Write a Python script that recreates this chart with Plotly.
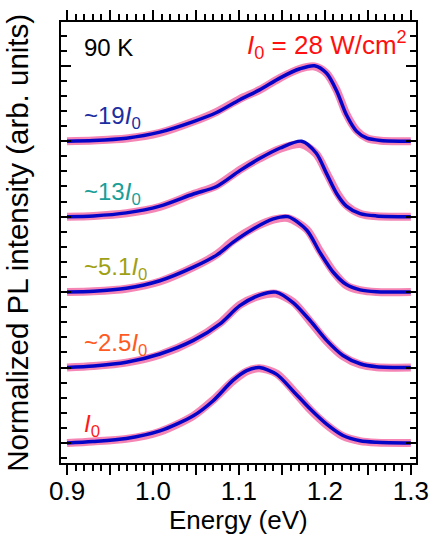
import plotly.graph_objects as go

# ---------------- data ----------------
labels = ["<i>I</i><sub>0</sub>", "~2.5<i>I</i><sub>0</sub>", "~5.1<i>I</i><sub>0</sub>",
          "~13<i>I</i><sub>0</sub>", "~19<i>I</i><sub>0</sub>"]
label_colors = ["#ff1a1a", "#ff5a1f", "#a0a015", "#1a9e98", "#1c2ea0"]
label_heights = [0.23, 0.31, 0.31, 0.31, 0.31]
offsets = [0, 1, 2, 3, 4]

e_1 = [0.90, 0.93, 0.969, 1.008, 1.047, 1.070, 1.093, 1.109, 1.124, 1.144, 1.163, 1.183, 1.202, 1.221, 1.241, 1.26, 1.30]
fit_1 = [0.0, 0.02, 0.06, 0.16, 0.36, 0.56, 0.83, 0.96, 1.0, 0.91, 0.69, 0.45, 0.25, 0.10, 0.03, 0.01, 0.0]
dat_1 = [0.0, 0.02, 0.055, 0.15, 0.36, 0.57, 0.82, 0.95, 0.99, 0.92, 0.70, 0.44, 0.24, 0.09, 0.025, 0.005, 0.0]

e_2 = [0.90, 0.931, 0.969, 1.008, 1.047, 1.078, 1.101, 1.124, 1.143, 1.163, 1.183, 1.202, 1.221, 1.241, 1.26, 1.30]
fit_2 = [0.0, 0.02, 0.07, 0.18, 0.36, 0.58, 0.82, 0.96, 1.0, 0.86, 0.62, 0.36, 0.16, 0.05, 0.01, 0.0]
dat_2 = [0.0, 0.02, 0.065, 0.17, 0.36, 0.59, 0.83, 0.95, 0.98, 0.87, 0.61, 0.35, 0.15, 0.04, 0.005, 0.0]

e_3 = [0.90, 0.931, 0.969, 1.008, 1.047, 1.074, 1.093, 1.117, 1.140, 1.157, 1.179, 1.194, 1.210, 1.225, 1.241, 1.26, 1.30]
fit_3 = [0.0, 0.01, 0.05, 0.15, 0.33, 0.49, 0.66, 0.84, 0.97, 1.0, 0.82, 0.53, 0.26, 0.10, 0.03, 0.005, 0.0]
dat_3 = [0.0, 0.01, 0.045, 0.14, 0.33, 0.50, 0.68, 0.85, 0.96, 0.98, 0.83, 0.55, 0.27, 0.09, 0.025, 0.0, 0.0]

e_4 = [0.90, 0.931, 0.969, 1.008, 1.047, 1.074, 1.101, 1.124, 1.148, 1.173, 1.190, 1.202, 1.214, 1.225, 1.241, 1.26, 1.30]
fit_4 = [0.0, 0.01, 0.05, 0.14, 0.30, 0.40, 0.61, 0.77, 0.91, 1.0, 0.84, 0.57, 0.30, 0.14, 0.04, 0.01, 0.0]
dat_4 = [0.0, 0.01, 0.045, 0.13, 0.30, 0.41, 0.62, 0.77, 0.90, 0.96, 0.83, 0.58, 0.32, 0.15, 0.04, 0.005, 0.0]

e_5 = [0.90, 0.931, 0.969, 1.008, 1.047, 1.074, 1.101, 1.124, 1.148, 1.171, 1.188, 1.202, 1.214, 1.225, 1.237, 1.249, 1.265, 1.30]
fit_5 = [0.0, 0.01, 0.04, 0.12, 0.26, 0.38, 0.55, 0.68, 0.84, 0.96, 1.0, 0.90, 0.66, 0.35, 0.13, 0.04, 0.01, 0.0]
dat_5 = [0.0, 0.01, 0.035, 0.11, 0.26, 0.39, 0.56, 0.68, 0.84, 0.96, 0.99, 0.90, 0.67, 0.36, 0.14, 0.04, 0.005, 0.0]

energies = [e_1, e_2, e_3, e_4, e_5]
fits = [fit_1, fit_2, fit_3, fit_4, fit_5]
datas = [dat_1, dat_2, dat_3, dat_4, dat_5]

x_tickvals = [0.90, 0.95, 1.00, 1.05, 1.10, 1.15, 1.20, 1.25, 1.30]
x_ticktext = ["0.9", "", "1.0", "", "1.1", "", "1.2", "", "1.3"]
y_tickvals = [0, 1, 2, 3, 4, 5]

FONT = "Liberation Sans, Arial, sans-serif"
PINK = "#f585b4"
BLUE = "#0505c8"

fig = go.Figure()
for e, d, f, o in zip(energies, datas, fits, offsets):
    fig.add_trace(go.Scatter(x=e, y=[v + o for v in d], mode="lines",
                             line=dict(color=PINK, width=8, shape="spline", smoothing=0.8),
                             showlegend=False, hoverinfo="skip"))
    fig.add_trace(go.Scatter(x=e, y=[v + o for v in f], mode="lines",
                             line=dict(color=BLUE, width=3.5, shape="spline", smoothing=0.8),
                             showlegend=False))

for lab, col, o, h in zip(labels, label_colors, offsets, label_heights):
    fig.add_annotation(x=0.917, y=o + h, xref="x", yref="y", text=lab, showarrow=False,
                       xanchor="left", yanchor="middle",
                       font=dict(family=FONT, size=24, color=col))

fig.add_annotation(x=0.917, y=5.24, xref="x", yref="y", text="90 K", showarrow=False,
                   xanchor="left", yanchor="middle", font=dict(family=FONT, size=24, color="black"))
fig.add_annotation(x=1.298, y=5.27, xref="x", yref="y",
                   text="<i>I</i><sub>0</sub> = 28 W/cm<sup>2</sup>", showarrow=False,
                   xanchor="right", yanchor="middle", font=dict(family=FONT, size=26, color="#ff1010"))

fig.add_annotation(x=0.5, y=-0.13, xref="paper", yref="paper", text="Energy (eV)",
                   showarrow=False, xanchor="center", yanchor="middle",
                   font=dict(family=FONT, size=26, color="black"))
fig.add_annotation(x=-0.123, y=0.5, xref="paper", yref="paper",
                   text="Normalized PL intensity (arb. units)", textangle=-90,
                   showarrow=False, xanchor="center", yanchor="middle",
                   font=dict(family=FONT, size=29.5, color="black"))

fig.update_layout(
    template="none",
    width=432, height=534, autosize=False,
    margin=dict(l=61, r=16, t=22, b=71, pad=0),
    plot_bgcolor="white", paper_bgcolor="white",
    font=dict(family=FONT, size=26, color="black"),
    xaxis=dict(range=[0.893, 1.306], tickmode="array", tickvals=x_tickvals, ticktext=x_ticktext,
               automargin=False,
               ticks="outside", ticklen=10, tickwidth=2, tickcolor="black",
               ticklabelstandoff=-6,
               minor=dict(dtick=0.01, tick0=0.9, ticks="outside", ticklen=6, tickwidth=1.5,
                          tickcolor="black", showgrid=False),
               showline=True, linecolor="black", linewidth=2, mirror="allticks",
               showgrid=False, zeroline=False, tickfont=dict(size=26, family=FONT)),
    yaxis=dict(range=[-0.265, 5.58], tickmode="array", tickvals=y_tickvals, showticklabels=False,
               automargin=False,
               ticks="inside", ticklen=10, tickwidth=2, tickcolor="black",
               minor=dict(dtick=0.2, tick0=0, ticks="inside", ticklen=6, tickwidth=1.5,
                          tickcolor="black", showgrid=False),
               showline=True, linecolor="black", linewidth=2, mirror="allticks",
               showgrid=False, zeroline=False),
)

fig.write_html("out.html", config={"displayModeBar": False},
               post_script="document.body.style.margin='0';document.body.style.overflow='hidden';")
